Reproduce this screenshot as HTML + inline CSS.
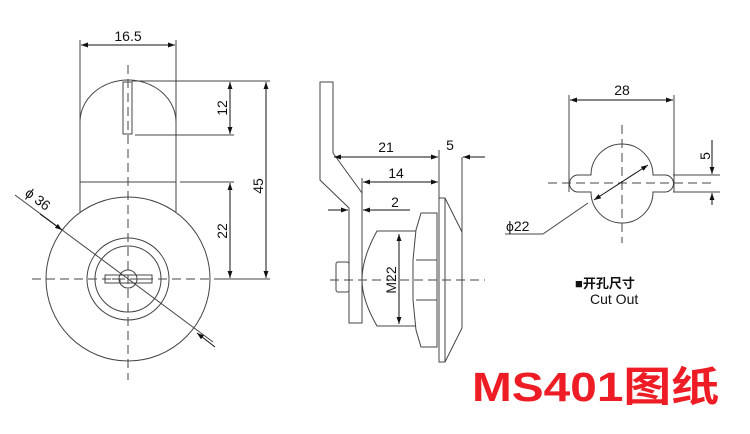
<!DOCTYPE html>
<html><head><meta charset="utf-8"><style>
html,body{margin:0;padding:0;background:#fff;}
svg{display:block;}
text{font-family:"Liberation Sans","Noto Sans CJK SC",sans-serif;fill:#111;}
</style></head><body>
<svg width="750" height="434" viewBox="0 0 750 434" xmlns="http://www.w3.org/2000/svg">
<defs>
<marker id="a" viewBox="0 0 10 10" refX="10" refY="5" markerWidth="7" markerHeight="7" orient="auto-start-reverse" markerUnits="userSpaceOnUse"><path d="M0,1.5 L10,5 L0,8.5 z" fill="#111"/></marker>
</defs>
<g fill="none" stroke="#444" stroke-width="1">
<line x1="80" y1="40" x2="80" y2="212"/>
<line x1="176" y1="40" x2="176" y2="212"/>
<path d="M80,122 A48,42 0 0 1 176,122"/>
<line x1="80" y1="182" x2="176" y2="182"/>
<rect x="123" y="82" width="9" height="52"/>
<circle cx="128" cy="279" r="82" fill="#fff"/>
<circle cx="128" cy="279" r="41"/>
<circle cx="128" cy="279" r="33"/>
<circle cx="128" cy="279" r="9"/>
<path d="M105,275 H152 V283 H105 Z M112,279 H120 V283 M134,279 H144"/>
<line x1="128" y1="65" x2="128" y2="380" stroke-dasharray="9,5"/>
<line x1="32" y1="279" x2="222" y2="279" stroke-dasharray="9,5"/>
<line x1="15" y1="195" x2="213" y2="342"/>
<line x1="132" y1="81" x2="270" y2="81"/>
<line x1="135" y1="135" x2="234" y2="135"/>
<line x1="180" y1="182" x2="234" y2="182"/>
<line x1="222" y1="279" x2="270" y2="279"/>
</g>
<g stroke="#111" stroke-width="1" fill="none">
<line x1="81" y1="45" x2="175" y2="45" marker-start="url(#a)" marker-end="url(#a)"/>
<line x1="230" y1="82" x2="230" y2="134" marker-start="url(#a)" marker-end="url(#a)"/>
<line x1="230" y1="183" x2="230" y2="278" marker-start="url(#a)" marker-end="url(#a)"/>
<line x1="266" y1="82" x2="266" y2="278" marker-start="url(#a)" marker-end="url(#a)"/>
<line x1="40" y1="214" x2="62" y2="230" marker-end="url(#a)"/>
<line x1="215" y1="347" x2="197" y2="333" marker-end="url(#a)"/>
</g>
<text x="128" y="41" font-size="14" text-anchor="middle">16.5</text>
<text transform="translate(227,108) rotate(-90)" font-size="14" text-anchor="middle">12</text>
<text transform="translate(227,231) rotate(-90)" font-size="14" text-anchor="middle">22</text>
<text transform="translate(263,186) rotate(-90)" font-size="14" text-anchor="middle">45</text>
<text transform="translate(35,203) rotate(37)" font-size="14" text-anchor="middle">ϕ 36</text>

<g fill="#fff" stroke="#444" stroke-width="1">
<path d="M320,82 H333 V153 L362,193 V323 H349 V208 L320,180 Z"/>
<rect x="336" y="262" width="13" height="30" rx="2"/>
<path d="M377,231 H418 V326 H377 Q362,300 362,280 Q362,258 377,231 Z"/>
<path d="M421,213 H437 V347 H421 L416,330 L413,300 V260 L416,230 Z"/>
<line x1="416" y1="260" x2="437" y2="260"/><line x1="416" y1="300" x2="437" y2="300"/>
<path d="M439,198 H445 L462,232 V328 L445,362 H439 Z"/>
<line x1="445" y1="198" x2="445" y2="362"/>
</g>
<g fill="none" stroke="#444" stroke-width="1">
<line x1="330" y1="280" x2="485" y2="280" stroke-dasharray="9,5"/>
<line x1="439" y1="150" x2="439" y2="198"/>
<line x1="462" y1="157" x2="462" y2="232"/>
<line x1="362" y1="178" x2="362" y2="193"/>
</g>
<g stroke="#111" stroke-width="1" fill="none">
<line x1="334" y1="157" x2="438" y2="157" marker-start="url(#a)" marker-end="url(#a)"/>
<line x1="485" y1="157" x2="463" y2="157" marker-end="url(#a)"/>
<line x1="363" y1="182" x2="438" y2="182" marker-start="url(#a)" marker-end="url(#a)"/>
<line x1="328" y1="210" x2="348" y2="210" marker-end="url(#a)"/>
<line x1="410" y1="210" x2="363" y2="210" marker-end="url(#a)"/>
<line x1="399" y1="234" x2="399" y2="324" marker-start="url(#a)" marker-end="url(#a)"/>
</g>
<text x="386" y="152" font-size="14" text-anchor="middle">21</text>
<text x="450" y="150" font-size="14" text-anchor="middle">5</text>
<text x="396" y="178" font-size="14" text-anchor="middle">14</text>
<text x="395" y="207" font-size="14" text-anchor="middle">2</text>
<text transform="translate(396,280) rotate(-90)" font-size="14" text-anchor="middle">M22</text>

<g fill="#fff" stroke="#444" stroke-width="1">
<path d="M591,175 A31,31 0 0 1 653,175 H665 A8.5,8.5 0 0 1 665,192 H653 A31,31 0 0 1 591,192 H578 A8.5,8.5 0 0 1 578,175 Z"/>
</g>
<g fill="none" stroke="#444" stroke-width="1">
<line x1="548" y1="183" x2="712" y2="183" stroke-dasharray="9,5"/>
<line x1="622" y1="125" x2="622" y2="243" stroke-dasharray="9,5"/>
<line x1="569" y1="95" x2="569" y2="192"/>
<line x1="674" y1="95" x2="674" y2="192"/>
<line x1="673" y1="175" x2="720" y2="175"/>
<line x1="673" y1="192" x2="720" y2="192"/>
<path d="M588,203 L543,234 H505"/>
</g>
<g stroke="#111" stroke-width="1" fill="none">
<line x1="570" y1="100" x2="673" y2="100" marker-start="url(#a)" marker-end="url(#a)"/>
<line x1="594" y1="200" x2="648" y2="165" marker-start="url(#a)" marker-end="url(#a)"/>
<line x1="712" y1="140" x2="712" y2="174" marker-end="url(#a)"/>
<line x1="712" y1="205" x2="712" y2="193" marker-end="url(#a)"/>
</g>
<text x="622" y="95" font-size="14" text-anchor="middle">28</text>
<text transform="translate(710,156) rotate(-90)" font-size="14" text-anchor="middle">5</text>
<text x="506" y="231" font-size="14">ϕ22</text>
<text x="575" y="288" font-size="13" font-weight="bold">■开孔尺寸</text>
<text x="590" y="304" font-size="14">Cut Out</text>

<text x="472" y="401" font-size="41" font-weight="bold" style="fill:#ee1c25;font-family:'Liberation Sans','Noto Sans CJK SC',sans-serif" textLength="247" lengthAdjust="spacingAndGlyphs">MS401图纸</text>
</svg>
</body></html>
